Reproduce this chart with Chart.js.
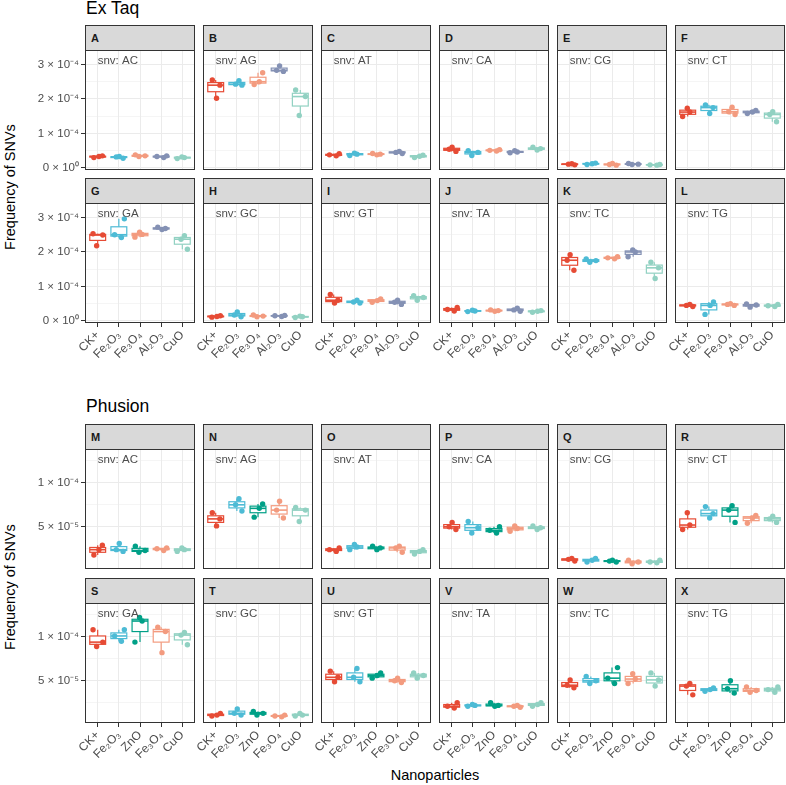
<!DOCTYPE html>
<html>
<head>
<meta charset="utf-8">
<script src="https://cdn.jsdelivr.net/npm/chart.js@4.4.0/dist/chart.umd.min.js"></script>
<style>
  body { margin: 0; background: #fff; width: 786px; height: 785px; position: relative; overflow: hidden;
         font-family: "Liberation Sans", Arial, sans-serif; }
  canvas { position: absolute; }
  .strip { position: absolute; box-sizing: border-box; width: 110px; height: 26px; background: #d9d9d9;
           border: 1px solid #333; font-weight: bold; font-size: 11px; color: #1a1a1a; line-height: 24px; padding-left: 5px; }
  .title { position: absolute; font-size: 17.5px; line-height: 17.5px; color: #000; }
  .axtitle { position: absolute; font-size: 14.5px; line-height: 16px; color: #000; text-align: center; }
</style>
</head>
<body>
<div class="title" style="left:86px;top:0px">Ex Taq</div>
<div class="title" style="left:86px;top:398px">Phusion</div>
<div class="axtitle" style="left:-90px;top:179px;width:200px;transform:rotate(-90deg)">Frequency of SNVs</div>
<div class="axtitle" style="left:-90px;top:579px;width:200px;transform:rotate(-90deg)">Frequency of SNVs</div>
<div class="axtitle" style="left:335px;top:767px;width:200px">Nanoparticles</div>
<script>
// frequencies are in units of 1e-5, three replicates per nanoparticle
const snvTypes = ['AC', 'AG', 'AT', 'CA', 'CG', 'CT', 'GA', 'GC', 'GT', 'TA', 'TC', 'TG'];
const exTaqLetters = ['A', 'B', 'C', 'D', 'E', 'F', 'G', 'H', 'I', 'J', 'K', 'L'];
const phusionLetters = ['M', 'N', 'O', 'P', 'Q', 'R', 'S', 'T', 'U', 'V', 'W', 'X'];

const exTaqCategories = ['CK+', 'Fe₂O₃', 'Fe₃O₄', 'Al₂O₃', 'CuO'];
const exTaqColors = ['#E64B35', '#4DBBD5', '#F39B7F', '#8491B4', '#91D1C2'];
const phusionCategories = ['CK+', 'Fe₂O₃', 'ZnO', 'Fe₃O₄', 'CuO'];
const phusionColors = ['#E64B35', '#4DBBD5', '#00A087', '#F39B7F', '#91D1C2'];

const exTaqTicks = [0, 5, 10, 15, 20, 25, 30];
const exTaqTickLabels = ['0 × 10⁰', '', '1 × 10⁻⁴', '', '2 × 10⁻⁴', '', '3 × 10⁻⁴'];
const phusionTicks = [2.5, 5, 7.5, 10, 12.5];
const phusionTickLabels = ['', '5 × 10⁻⁵', '', '1 × 10⁻⁴', ''];

const exTaqAC = [[3.0, 3.3, 3.5], [2.8, 3.2, 3.3], [3.3, 3.5, 3.8], [3.0, 3.3, 3.5], [2.7, 3.0, 3.2]];
const exTaqAG = [[20.2, 24.0, 25.5], [24.0, 24.3, 25.3], [24.2, 25.0, 27.6], [28.0, 28.3, 29.6], [15.2, 20.7, 22.6]];
const exTaqAT = [[3.5, 3.8, 4.1], [3.6, 4.0, 4.3], [3.8, 4.0, 4.2], [4.2, 4.5, 4.8], [3.0, 3.4, 3.7]];
const exTaqCA = [[4.8, 5.4, 6.0], [3.6, 4.5, 5.0], [4.9, 5.1, 5.3], [4.4, 4.6, 5.0], [5.2, 5.6, 6.0]];
const exTaqCG = [[0.9, 1.1, 1.2], [1.0, 1.2, 1.4], [0.8, 1.0, 1.3], [1.0, 1.1, 1.3], [0.8, 0.9, 1.0]];
const exTaqCT = [[14.9, 16.2, 17.3], [15.8, 17.5, 18.3], [15.5, 16.3, 17.6], [15.8, 16.2, 16.7], [13.4, 15.5, 16.3]];
const exTaqGA = [[21.8, 24.9, 25.3], [24.2, 25.0, 29.6], [24.3, 25.1, 25.7], [26.5, 26.8, 27.2], [20.8, 23.7, 24.7]];
const exTaqGC = [[1.1, 1.3, 1.5], [1.2, 1.7, 2.6], [1.2, 1.4, 1.7], [1.3, 1.5, 1.6], [1.0, 1.2, 1.4]];
const exTaqGT = [[5.2, 6.0, 7.7], [5.2, 5.5, 6.0], [5.4, 5.9, 6.4], [4.8, 5.4, 6.0], [6.0, 6.8, 7.3]];
const exTaqTA = [[2.9, 3.3, 3.9], [2.7, 2.9, 3.1], [2.8, 3.0, 3.2], [2.8, 3.2, 3.7], [2.5, 2.8, 3.0]];
const exTaqTC = [[14.7, 17.6, 19.2], [17.0, 17.5, 18.0], [18.0, 18.3, 18.6], [18.6, 20.0, 20.6], [12.3, 15.4, 17.0]];
const exTaqTG = [[4.2, 4.5, 4.8], [1.9, 4.5, 5.5], [4.5, 4.8, 5.0], [4.0, 4.6, 4.9], [4.2, 4.4, 4.8]];

const phusionAC = [[1.8, 2.4, 2.9], [2.2, 2.4, 3.1], [2.1, 2.3, 2.8], [2.3, 2.5, 2.6], [2.2, 2.4, 2.6]];
const phusionAG = [[5.1, 5.9, 6.6], [6.8, 7.5, 8.2], [6.1, 7.1, 7.6], [6.0, 6.9, 7.9], [5.6, 6.9, 7.2]];
const phusionAT = [[2.2, 2.4, 2.6], [2.4, 2.7, 3.0], [2.4, 2.6, 2.8], [2.1, 2.6, 2.8], [1.9, 2.2, 2.4]];
const phusionCA = [[4.7, 5.0, 5.5], [4.3, 4.9, 5.6], [4.3, 4.6, 5.0], [4.5, 4.8, 5.1], [4.7, 4.9, 5.1]];
const phusionCG = [[1.1, 1.3, 1.4], [1.0, 1.2, 1.4], [1.0, 1.1, 1.2], [0.8, 1.0, 1.2], [0.9, 1.0, 1.2]];
const phusionCT = [[4.7, 5.2, 6.6], [6.0, 6.5, 7.3], [5.5, 6.9, 7.4], [5.4, 6.0, 6.3], [5.5, 5.9, 6.2]];
const phusionGA = [[8.9, 9.4, 10.8], [9.5, 10.1, 10.8], [9.4, 11.8, 12.2], [8.2, 10.6, 11.1], [9.1, 10.2, 10.5]];
const phusionGC = [[1.0, 1.1, 1.3], [1.1, 1.3, 1.8], [1.1, 1.3, 1.5], [0.9, 1.0, 1.1], [1.0, 1.1, 1.3]];
const phusionGT = [[4.9, 5.4, 6.1], [4.9, 5.4, 6.4], [5.3, 5.6, 5.9], [4.8, 5.0, 5.3], [5.3, 5.6, 5.9]];
const phusionTA = [[1.9, 2.1, 2.5], [2.1, 2.2, 2.3], [2.1, 2.2, 2.5], [2.0, 2.1, 2.2], [2.1, 2.3, 2.5]];
const phusionTC = [[4.2, 4.5, 5.1], [4.7, 5.0, 5.5], [4.7, 5.3, 6.5], [4.7, 5.2, 5.8], [4.4, 5.1, 5.9]];
const phusionTG = [[3.4, 4.4, 4.7], [3.8, 4.0, 4.2], [3.6, 4.1, 5.0], [3.7, 3.9, 4.3], [3.7, 4.0, 4.3]];

// horizontal jitter of the replicate points (category units)
const jitter = [[-0.18, 0.06, 0.22], [0.2, -0.12, 0.02], [-0.05, 0.24, -0.22], [0.12, -0.2, 0.26],
                [-0.24, 0.1, -0.02], [0.04, 0.2, -0.16], [0.24, -0.06, 0.1]];

const exTaqPanels = [exTaqAC, exTaqAG, exTaqAT, exTaqCA, exTaqCG, exTaqCT, exTaqGA, exTaqGC, exTaqGT, exTaqTA, exTaqTC, exTaqTG];
const phusionPanels = [phusionAC, phusionAG, phusionAT, phusionCA, phusionCG, phusionCT, phusionGA, phusionGC, phusionGT, phusionTA, phusionTC, phusionTG];

const font = '"Liberation Sans", Arial, sans-serif';
const colLeft = [85, 203, 321, 439, 557, 675];
const plotW = 110, plotH = 120, yAxisW = 85;

const sections = [
  { cats: exTaqCategories, colors: exTaqColors, panels: exTaqPanels, letters: exTaqLetters,
    tops: [50, 203], yMin: -0.6, yMax: 34.2, ticks: exTaqTicks, tickLabels: exTaqTickLabels },
  { cats: phusionCategories, colors: phusionColors, panels: phusionPanels, letters: phusionLetters,
    tops: [449, 603], yMin: 0.2, yMax: 13.85, ticks: phusionTicks, tickLabels: phusionTickLabels }
];

function quantile(s, p) {
  const h = (s.length - 1) * p, lo = Math.floor(h);
  const next = lo + 1 < s.length ? s[lo + 1] : s[lo];
  return s[lo] + (h - lo) * (next - s[lo]);
}

function boxStats(vals) {
  const s = vals.slice().sort((a, b) => a - b);
  const q1 = quantile(s, 0.25), med = quantile(s, 0.5), q3 = quantile(s, 0.75);
  const iqr = q3 - q1;
  const inside = s.filter(v => v >= q1 - 1.5 * iqr && v <= q3 + 1.5 * iqr);
  return { q1, med, q3, lo: Math.min(...inside), hi: Math.max(...inside) };
}

// boxes under the points, panel border and the snv label on top
function panelPlugin(groups, colors, snv) {
  return {
    id: 'panelBoxes',
    beforeDatasetsDraw(chart) {
      const { ctx, chartArea: a, scales: { x, y } } = chart;
      ctx.save();
      ctx.beginPath();
      ctx.rect(a.left, a.top, a.right - a.left, a.bottom - a.top);
      ctx.clip();
      groups.forEach((vals, i) => {
        const st = boxStats(vals);
        const cx = x.getPixelForValue(i + 1);
        const x0 = x.getPixelForValue(i + 1 - 0.375), x1 = x.getPixelForValue(i + 1 + 0.375);
        ctx.strokeStyle = colors[i];
        ctx.lineWidth = 1.2;
        ctx.beginPath();
        ctx.moveTo(cx, y.getPixelForValue(st.lo));
        ctx.lineTo(cx, y.getPixelForValue(st.q1));
        ctx.moveTo(cx, y.getPixelForValue(st.q3));
        ctx.lineTo(cx, y.getPixelForValue(st.hi));
        ctx.stroke();
        const yt = y.getPixelForValue(st.q3), yb = y.getPixelForValue(st.q1);
        ctx.fillStyle = '#fff';
        ctx.fillRect(x0, yt, x1 - x0, yb - yt);
        ctx.strokeRect(x0, yt, x1 - x0, yb - yt);
        ctx.lineWidth = 1.6;
        ctx.beginPath();
        ctx.moveTo(x0, y.getPixelForValue(st.med));
        ctx.lineTo(x1, y.getPixelForValue(st.med));
        ctx.stroke();
      });
      ctx.restore();
    },
    afterDraw(chart) {
      const { ctx, chartArea: a, scales: { x } } = chart;
      ctx.save();
      ctx.fillStyle = '#4d4d4d';
      ctx.font = '11.5px ' + font;
      ctx.textAlign = 'left';
      ctx.textBaseline = 'alphabetic';
      ctx.fillText('snv: ' + snv, x.getPixelForValue(1), a.top + 13.5);
      ctx.strokeStyle = '#333';
      ctx.lineWidth = 1;
      ctx.strokeRect(a.left + 0.5, a.top + 0.5, a.right - a.left - 1, a.bottom - a.top - 1);
      ctx.restore();
    }
  };
}

function makePanel(sec, k) {
  const row = Math.floor(k / 6), col = k % 6;
  const bottom = row === 1;
  const top = sec.tops[row];
  const left = colLeft[col];

  const strip = document.createElement('div');
  strip.className = 'strip';
  strip.style.left = left + 'px';
  strip.style.top = (top - 25) + 'px';
  strip.textContent = sec.letters[k];
  document.body.appendChild(strip);

  const xPad = bottom ? 60 : 10;
  const cv = document.createElement('canvas');
  cv.width = yAxisW + plotW;
  cv.height = plotH + xPad;
  cv.style.left = (left - yAxisW) + 'px';
  cv.style.top = top + 'px';
  document.body.appendChild(cv);

  const groups = sec.panels[k];
  const datasets = groups.map((vals, i) => ({
    data: vals.map((v, j) => ({ x: i + 1 + jitter[(k * 5 + i) % jitter.length][j], y: v })),
    backgroundColor: sec.colors[i],
    borderWidth: 0,
    pointRadius: 2.7,
    pointHoverRadius: 2.7
  }));
  const isMajor = v => sec.tickLabels[sec.ticks.indexOf(v)] !== '';

  new Chart(cv, {
    type: 'scatter',
    data: { datasets },
    options: {
      responsive: false,
      animation: false,
      devicePixelRatio: 1,
      events: [],
      layout: { padding: 0, autoPadding: false },
      plugins: { legend: { display: false }, tooltip: { enabled: false } },
      scales: {
        x: {
          type: 'linear', min: 0.4, max: 5.6,
          afterBuildTicks: s => { s.ticks = [1, 2, 3, 4, 5].map(v => ({ value: v })); },
          afterFit: s => { s.height = xPad; s.paddingLeft = 0; s.paddingRight = 0; },
          border: { display: false },
          grid: { color: '#ebebeb', lineWidth: 1, drawTicks: bottom, tickLength: 4, tickColor: '#333', tickWidth: 1 },
          ticks: { display: bottom, autoSkip: false, minRotation: 45, maxRotation: 45, padding: 1,
                   color: '#4d4d4d', font: { family: font, size: 12 },
                   callback: v => sec.cats[v - 1] }
        },
        y: {
          min: sec.yMin, max: sec.yMax,
          afterBuildTicks: s => { s.ticks = sec.ticks.map(v => ({ value: v })); },
          afterFit: s => { s.width = yAxisW; s.paddingTop = 0; s.paddingBottom = 0; },
          border: { display: false },
          grid: { color: '#ebebeb',
                  lineWidth: c => (c.tick && isMajor(c.tick.value)) ? 1 : 0.5,
                  drawTicks: col === 0, tickLength: 4, tickWidth: 1,
                  tickColor: c => (c.tick && isMajor(c.tick.value)) ? '#333' : 'rgba(0,0,0,0)' },
          ticks: { display: col === 0, autoSkip: false, padding: 2, color: '#4d4d4d',
                   font: { family: font, size: 11.5 },
                   callback: v => sec.tickLabels[sec.ticks.indexOf(v)] }
        }
      }
    },
    plugins: [panelPlugin(groups, sec.colors, snvTypes[k])]
  });
}

sections.forEach(sec => {
  for (let k = 0; k < 12; k++) makePanel(sec, k);
});
</script>
</body>
</html>
